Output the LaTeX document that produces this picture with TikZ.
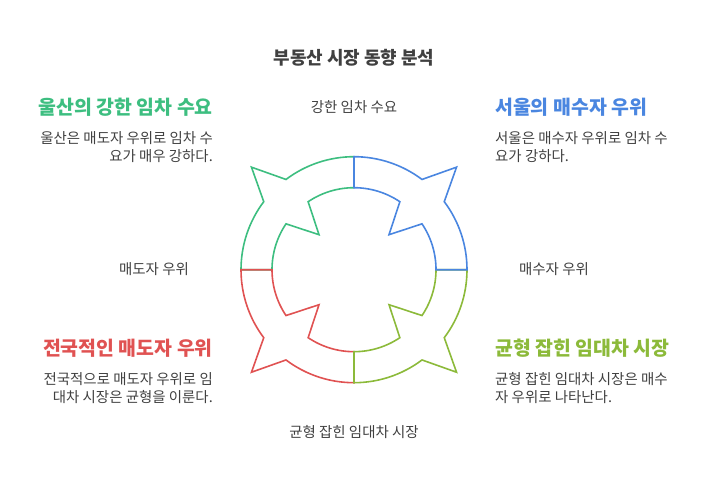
\documentclass[tikz,border=0pt]{standalone}
\usepackage{fontspec}
\setmainfont{Noto Sans CJK KR}
\definecolor{cg}{HTML}{3DBE80}
\definecolor{cb}{HTML}{4A86E0}
\definecolor{cr}{HTML}{E05252}
\definecolor{cl}{HTML}{8CBA3A}
\definecolor{tx}{HTML}{404040}
\begin{document}
\begin{tikzpicture}[x=1bp,y=1bp,
  lbl/.style={font=\fontsize{14.5}{17}\selectfont,text=tx,inner sep=0},
  hd/.style={font=\fontsize{19.5}{22}\selectfont\bfseries,inner sep=0},
  desc/.style={font=\fontsize{14.5}{18}\selectfont,text=tx,inner sep=0},
  seg/.style={line width=1.6bp,line join=miter}]
\useasboundingbox (0,0) rectangle (708,-492);
\node[font=\fontsize{18}{20}\selectfont\bfseries,text=tx] (title) at (354,-58) {부동산 시장 동향 분석};
\begin{scope}[shift={(354,-269.7)}]
\foreach \a/\c in {90/cg,180/cr,270/cl,0/cb}{
\draw[seg,\c] (\a:82) -- (\a:113) arc[start angle=\a, end angle=\a+37, radius=113] -- (\a+45:145) -- (\a+53:113) arc[start angle=\a+53,end angle=\a+90,radius=113] -- (\a+90:82) arc[start angle=\a+90,end angle=\a+56,radius=82] -- (\a+45:49.5) -- (\a+34:82) arc[start angle=\a+34,end angle=\a,radius=82] -- cycle;
}
\end{scope}
\node[lbl] (t) at (354,-107) {강한 임차 수요};
\node[lbl] (r) at (554,-269) {매수자 우위};
\node[lbl] (b) at (354,-432) {균형 잡힌 임대차 시장};
\node[lbl] (l) at (154,-269) {매도자 우위};
\node[hd,text=cg,anchor=east] (h1) at (213,-107) {울산의 강한 임차 수요};
\node[desc,anchor=north east,align=right] (d1) at (213,-131) {울산은 매도자 우위로 임차 수\\요가 매우 강하다.};
\node[hd,text=cb,anchor=west] (h2) at (495,-107) {서울의 매수자 우위};
\node[desc,anchor=north west,align=left] (d2) at (495,-131) {서울은 매수자 우위로 임차 수\\요가 강하다.};
\node[hd,text=cr,anchor=east] (h3) at (213,-348) {전국적인 매도자 우위};
\node[desc,anchor=north east,align=right] (d3) at (213,-372) {전국적으로 매도자 우위로 임\\대차 시장은 균형을 이룬다.};
\node[hd,text=cl,anchor=west] (h4) at (495,-348) {균형 잡힌 임대차 시장};
\node[desc,anchor=north west,align=left] (d4) at (495,-372) {균형 잡힌 임대차 시장은 매수\\자 우위로 나타난다.};
\end{tikzpicture}
\end{document}
